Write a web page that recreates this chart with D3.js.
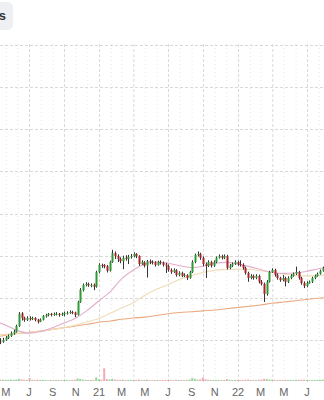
<html>
<head>
  <script src="https://d3js.org/d3.v7.min.js"></script>
  <style>
    body { margin: 0; background: #fff; }
    text { font-family: "Liberation Sans", Arial, sans-serif; }
  </style>
</head>
<body>
  <svg id="chart" width="324" height="400"></svg>
  <script>
    // Weekly candles, first week starting Monday 13 Apr 2020
    const firstWeek = new Date(2020, 3, 13);

    const opens = [9.6,9.5,10.0,10.4,10.9,11.5,11.9,13.3,16.3,15.2,
      14.7,15.2,14.9,15.2,14.8,14.3,14.8,15.6,15.9,16.2,
      15.9,16.1,16.2,15.9,16.1,16.3,16.4,16.6,16.5,15.9,
      19.0,21.8,23.0,23.3,22.9,23.1,22.6,26.1,27.8,27.8,
      27.5,26.4,28.5,30.6,29.9,29.2,28.7,29.5,29.2,29.7,
      29.9,30.4,29.9,28.0,28.4,27.6,28.7,28.5,28.4,27.8,
      28.5,28.3,27.9,27.6,26.6,26.1,26.5,25.4,25.9,25.2,
      25.4,24.7,26.1,28.5,30.2,30.4,29.5,28.0,27.6,28.5,
      27.6,28.5,29.5,29.9,29.5,29.9,27.1,27.6,28.0,28.5,
      28.0,27.8,27.1,25.9,24.7,25.2,24.7,25.2,23.8,23.3,
      20.9,23.8,26.1,26.6,25.4,24.7,24.2,24.7,23.8,24.7,
      25.2,25.7,26.1,24.7,23.5,22.8,23.4,23.8,24.7,25.2,
      25.7,26.4];
    const highs = [10.4,10.5,10.9,11.3,12.0,12.4,13.6,16.6,16.6,15.5,
      15.6,15.6,15.5,15.4,15.0,15.1,15.9,16.2,16.4,16.4,
      16.5,16.6,16.4,16.5,16.7,16.8,17.0,16.9,16.7,19.3,
      22.3,23.4,23.7,23.6,23.4,23.4,26.4,28.2,28.1,28.0,
      27.8,28.8,31.4,31.0,30.3,29.6,30.0,30.1,30.2,30.4,
      30.8,30.6,30.1,28.9,28.7,29.0,29.1,28.9,28.7,28.8,
      28.9,28.6,28.3,27.9,27.0,27.0,26.8,26.3,26.2,25.8,
      25.6,26.4,28.9,30.5,31.0,30.7,29.8,28.4,28.9,28.8,
      28.9,29.8,30.3,30.2,30.3,30.2,28.0,28.4,28.9,28.8,
      28.9,28.2,27.4,26.2,25.6,25.5,25.6,25.5,24.2,23.6,
      24.2,26.4,27.0,26.9,25.8,25.0,25.4,25.0,25.1,25.6,
      26.0,27.4,26.4,25.0,23.9,23.9,24.1,25.0,25.5,26.0,
      26.7,27.4];
    const lows = [9.0,9.3,9.8,10.2,10.7,11.2,11.7,13.1,14.6,14.3,
      14.5,14.6,14.7,14.4,13.9,14.2,14.6,15.3,15.6,15.6,
      15.7,15.8,15.5,15.7,15.6,16.0,16.2,16.1,15.4,15.8,
      18.8,21.5,22.7,22.6,22.5,21.8,22.4,25.8,27.1,27.0,
      26.0,26.2,28.3,29.2,28.5,28.2,26.8,28.8,28.0,29.3,
      29.6,29.4,27.6,27.8,27.2,24.8,28.0,27.9,27.4,27.6,
      27.9,27.4,25.9,26.2,25.7,25.9,25.0,25.1,24.9,24.9,
      24.2,24.5,25.9,28.2,29.8,29.0,27.5,24.7,27.3,27.2,
      27.3,28.2,29.3,29.1,29.2,26.7,26.8,27.3,27.8,27.6,
      27.4,26.7,25.5,23.8,24.4,24.3,24.4,23.4,22.9,19.0,
      20.5,23.6,25.9,25.0,24.3,23.8,23.9,22.7,23.5,24.4,
      25.0,25.4,24.3,23.1,22.3,22.5,23.4,23.5,24.4,25.0,
      25.5,26.2];
    const closes = [9.5,10.0,10.5,10.9,11.6,11.9,13.3,16.2,15.2,14.7,
      15.2,15.0,15.2,14.7,14.3,14.8,15.7,15.9,16.2,15.9,
      16.2,16.2,15.9,16.2,16.4,16.4,16.6,16.4,15.9,19.0,
      21.9,23.0,23.3,23.0,23.0,22.6,26.1,27.8,27.6,27.4,
      26.4,28.5,30.6,29.9,29.2,28.7,29.5,29.2,29.7,29.9,
      30.4,29.9,28.0,28.5,27.6,28.7,28.5,28.3,27.8,28.5,
      28.3,27.8,27.6,26.6,26.1,26.6,25.4,25.9,25.2,25.4,
      24.7,26.1,28.5,30.2,30.4,29.5,28.0,27.6,28.5,27.6,
      28.5,29.5,29.9,29.5,29.9,27.1,27.6,28.0,28.5,28.0,
      27.8,27.1,25.9,24.7,25.2,24.7,25.2,23.8,23.3,20.9,
      23.8,26.1,26.6,25.4,24.7,24.2,24.7,23.8,24.7,25.2,
      25.7,26.1,24.7,23.5,22.8,23.5,23.8,24.7,25.2,25.7,
      26.4,27.1];
    const volumes = [1.4,1.3,1.2,1.2,1.3,1.1,1.5,2.2,1.6,1.2,
      1.1,3.0,1.2,1.0,1.3,1.1,1.2,1.0,0.9,1.0,
      0.9,1.1,1.0,0.9,1.0,1.0,0.9,1.1,1.3,2.6,
      2.0,1.4,1.1,1.0,1.0,1.2,3.6,1.8,1.3,12.8,
      1.9,1.6,2.2,1.4,1.2,1.1,1.3,1.0,1.1,1.0,
      1.0,1.1,1.4,1.0,1.2,1.3,1.0,0.9,1.0,0.9,
      0.9,1.0,1.1,1.0,1.1,0.9,1.2,1.0,1.0,0.9,
      1.1,1.5,3.0,2.2,1.4,1.6,3.5,1.8,1.2,1.1,
      1.0,1.1,1.0,0.9,1.0,1.9,1.2,1.0,1.0,1.1,
      1.0,1.1,1.3,1.5,1.0,1.0,0.9,1.3,1.4,2.3,
      1.9,1.5,1.2,1.1,1.0,1.0,0.9,1.2,1.0,1.0,
      1.0,1.2,1.3,1.2,1.3,1.0,0.9,1.0,1.0,1.1,
      1.2,1.4];

    // Moving averages read at each month start, Apr 2020 .. Sep 2022
    const firstMonth = new Date(2020, 3, 1);
    const fastMA = [14.5,13.5,12.2,11.6,12.0,12.9,14.0,15.2,17.0,19.3,21.6,24.5,26.6,28.0,28.5,
      28.2,27.6,27.2,27.5,28.2,28.4,28.0,27.4,26.7,26.0,25.8,25.9,26.3,26.9,27.4];
    const midMA = [11.2,11.3,11.5,11.8,12.1,12.5,12.9,13.5,14.3,15.1,16.4,17.6,18.8,20.6,22.0,
      23.1,24.4,25.3,26.0,26.5,26.7,26.8,26.7,26.4,26.0,25.6,25.3,25.2,25.3,25.5];
    const slowMA = [10.6,11.1,11.5,11.8,12.1,12.5,12.9,13.3,13.7,14.2,14.5,14.9,15.2,15.4,15.8,
      16.2,16.5,16.7,16.9,17.1,17.4,17.7,18.0,18.3,18.7,19.0,19.3,19.6,19.9,20.1];

    const priceTicks = [10, 20, 30, 40, 50, 60, 70, 80];

    const svg = d3.select("#chart");

    const x = d3.scaleTime().domain([new Date(2020, 6, 1), new Date(2022, 6, 1)]).range([29, 307]);
    const y = d3.scaleLinear().domain([0, 90]).range([382, 3]);
    const yVol = d3.scaleLinear().domain([0, 13]).range([381, 368]);

    const weeks = closes.map((c, i) => ({
      date: new Date(+d3.timeDay.offset(firstWeek, 7 * i) + 3.5 * 864e5),
      o: opens[i], h: highs[i], l: lows[i], c: c, v: volumes[i]
    }));

    // top-left button (cropped)
    svg.append("rect").attr("x", -12).attr("y", 2).attr("width", 25).attr("height", 28)
      .attr("rx", 5).attr("fill", "#eef0f3");
    svg.append("text").attr("x", 6).attr("y", 20).attr("text-anchor", "end")
      .attr("font-size", 13).attr("font-weight", "bold").attr("fill", "#333").text("s");

    // grid
    const g = svg.append("g");
    const xDomain = [x.invert(-20), x.invert(344)];
    const months = d3.timeMonth.range(xDomain[0], xDomain[1]);
    g.selectAll(".vgrid").data(months).join("line")
      .attr("x1", d => x(d) + 0.5).attr("x2", d => x(d) + 0.5)
      .attr("y1", 44).attr("y2", 383)
      .attr("stroke", d => d.getMonth() % 3 === 0 ? "#d9d9d9" : "#e8e8e8")
      .attr("stroke-dasharray", d => d.getMonth() % 3 === 0 ? "3,2" : "1,3");

    g.selectAll(".hgrid").data(priceTicks).join("line")
      .attr("x1", 0).attr("x2", 324)
      .attr("y1", d => Math.round(y(d)) + 0.5).attr("y2", d => Math.round(y(d)) + 0.5)
      .attr("stroke", "#d9d9d9").attr("stroke-dasharray", "3,2");

    // volume
    svg.append("g").selectAll("rect").data(weeks).join("rect")
      .attr("x", d => x(d.date) - 1).attr("width", 2)
      .attr("y", d => yVol(d.v)).attr("height", d => yVol(0) - yVol(d.v))
      .attr("fill", d => d.c >= d.o ? "#7cc47c" : "#eb8fa0")
      .attr("opacity", 0.75);

    // moving averages
    const line = d3.line()
      .x((d, i) => x(d3.timeMonth.offset(firstMonth, i)))
      .y(d => y(d))
      .curve(d3.curveMonotoneX);
    [[slowMA, "#eaaa80"], [midMA, "#f0dcb8"], [fastMA, "#e2aecb"]].forEach(([vals, col]) => {
      svg.append("path").datum(vals).attr("d", line)
        .attr("fill", "none").attr("stroke", col).attr("stroke-width", 1.1);
    });

    // candles
    const candles = svg.append("g").selectAll("g").data(weeks).join("g");
    candles.append("line")
      .attr("x1", d => Math.round(x(d.date)) + 0.5).attr("x2", d => Math.round(x(d.date)) + 0.5)
      .attr("y1", d => y(d.h)).attr("y2", d => y(d.l))
      .attr("stroke", "#333").attr("stroke-width", 1);
    candles.append("rect")
      .attr("x", d => Math.round(x(d.date)) - 0.5).attr("width", 2)
      .attr("y", d => y(Math.max(d.o, d.c)))
      .attr("height", d => Math.max(1, Math.abs(y(d.o) - y(d.c))))
      .attr("fill", d => d.c >= d.o ? "#2f9a34" : "#a8262b");

    // x axis labels every two months, May 2020 .. Jul 2022
    const labelMonths = d3.timeMonth.every(2).range(new Date(2020, 4, 1), new Date(2022, 7, 1));
    const fmt = d => d.getMonth() === 0 ? d3.timeFormat("%y")(d) : d3.timeFormat("%b")(d)[0];
    svg.append("g").selectAll("text").data(labelMonths).join("text")
      .attr("x", d => Math.max(x(d), 5)).attr("y", 396)
      .attr("text-anchor", "middle").attr("font-size", 11).attr("fill", "#666")
      .text(fmt);
  </script>
</body>
</html>
